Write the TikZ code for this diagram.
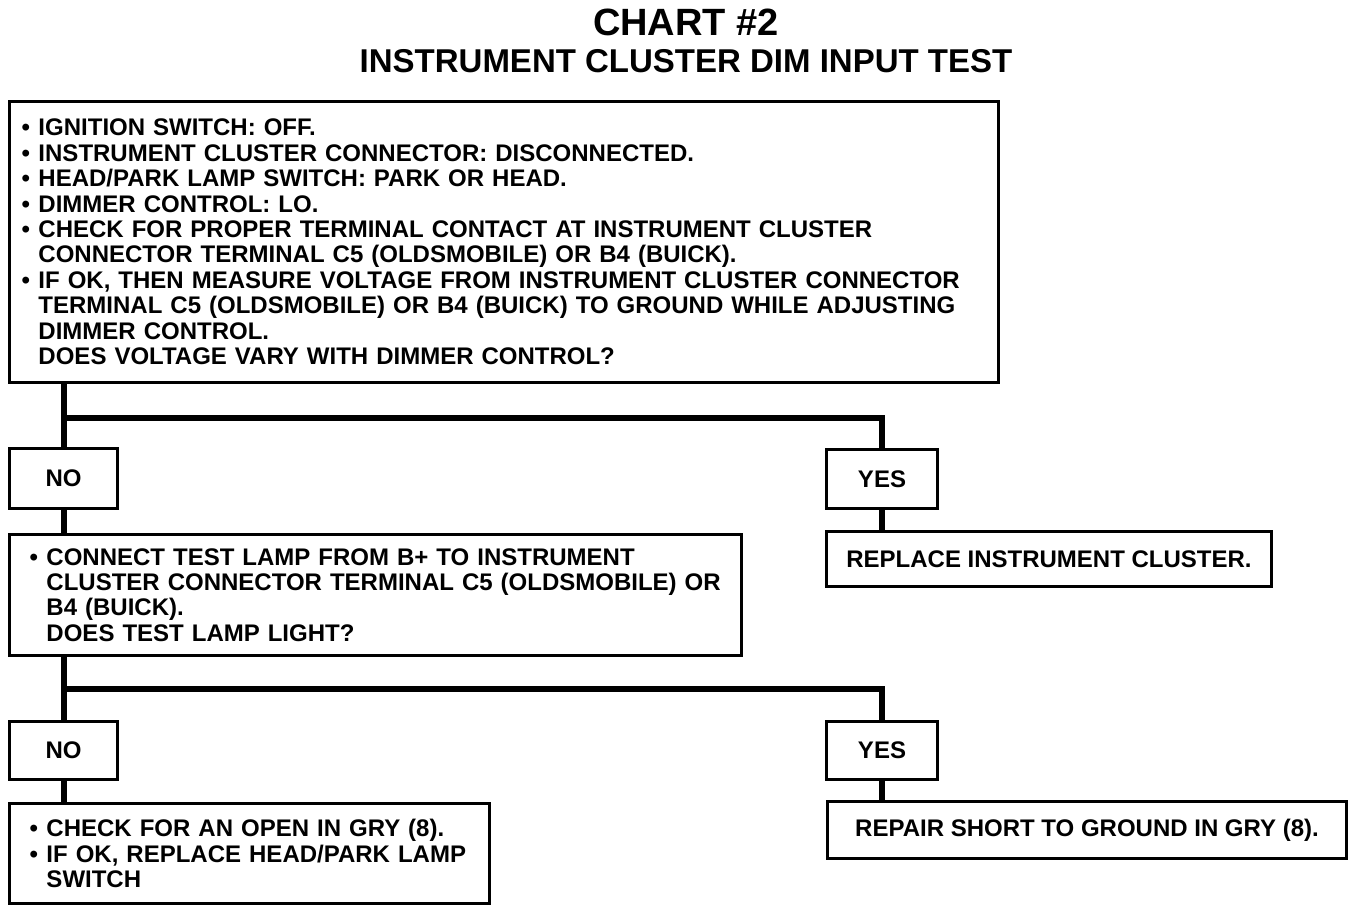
\documentclass[tikz,border=0pt]{standalone}
\usepackage{fontspec}
\setmainfont{Liberation Sans}
\newcommand\bulA{\makebox[17pt][l]{\textbullet}}
\newcommand\indA{\hspace*{17pt}}
\begin{document}
\begin{tikzpicture}[x=1pt,y=-1pt,
  box/.style={draw, line width=3pt, inner ysep=0pt, anchor=north west, align=left},
  txt/.style={font=\bfseries\fontsize{24}{25.4}\selectfont},
  small/.style={box, txt, align=center, inner xsep=0pt},
  conn/.style={line width=6pt, line join=miter}]
\useasboundingbox[fill=white] (0,0) rectangle (1360,910);

\node[anchor=base, font=\bfseries\fontsize{38}{40}\selectfont] (t1) at (686,35) {CHART \#2};
\node[anchor=base, font=\bfseries\fontsize{33}{35}\selectfont] (t2) at (686,72) {INSTRUMENT CLUSTER DIM INPUT TEST};

\node[box, txt, minimum width=989pt, minimum height=281pt, inner xsep=12pt, text width=965pt] (b1) at (8,100) {%
\bulA IGNITION SWITCH: OFF.\\
\bulA INSTRUMENT CLUSTER CONNECTOR: DISCONNECTED.\\
\bulA HEAD/PARK LAMP SWITCH: PARK OR HEAD.\\
\bulA DIMMER CONTROL: LO.\\
\bulA CHECK FOR PROPER TERMINAL CONTACT AT INSTRUMENT CLUSTER\\
\indA CONNECTOR TERMINAL C5 (OLDSMOBILE) OR B4 (BUICK).\\
\bulA IF OK, THEN MEASURE VOLTAGE FROM INSTRUMENT CLUSTER CONNECTOR\\
\indA TERMINAL C5 (OLDSMOBILE) OR B4 (BUICK) TO GROUND WHILE ADJUSTING\\
\indA DIMMER CONTROL.\\
\indA DOES VOLTAGE VARY WITH DIMMER CONTROL?};

\node[small, minimum width=108pt, minimum height=60pt] (no1) at (8,447) {NO};
\node[small, minimum width=111pt, minimum height=59pt] (yes1) at (825,448) {YES};
\node[small, minimum width=445pt, minimum height=55pt] (rep1) at (825,530) {REPLACE INSTRUMENT CLUSTER.};

\node[box, txt, minimum width=732pt, minimum height=121pt, inner xsep=20pt, text width=692pt] (b2) at (8,533) {%
\bulA CONNECT TEST LAMP FROM B+ TO INSTRUMENT\\
\indA CLUSTER CONNECTOR TERMINAL C5 (OLDSMOBILE) OR\\
\indA B4 (BUICK).\\
\indA DOES TEST LAMP LIGHT?};

\node[small, minimum width=108pt, minimum height=58pt] (no2) at (8,720) {NO};
\node[small, minimum width=111pt, minimum height=58pt] (yes2) at (825,720) {YES};

\node[box, txt, minimum width=480pt, minimum height=100pt, inner xsep=20pt, text width=440pt] (b3) at (8,802) {%
\bulA CHECK FOR AN OPEN IN GRY (8).\\
\bulA IF OK, REPLACE HEAD/PARK LAMP\\
\indA SWITCH};
\node[small, minimum width=519pt, minimum height=57pt] (rep2) at (826,800) {REPAIR SHORT TO GROUND IN GRY (8).};

\coordinate (j1) at (62,418);
\coordinate (j2) at (62,689);
\draw[conn] (b1.south -| no1.north) -- (no1.north);
\draw[conn] (j1) -| (yes1.north);
\draw[conn] (no1.south) -- (no1.south |- b2.north);
\draw[conn] (yes1.south) -- (yes1.south |- rep1.north);
\draw[conn] (b2.south -| no2.north) -- (no2.north);
\draw[conn] (j2) -| (yes2.north);
\draw[conn] (no2.south) -- (no2.south |- b3.north);
\draw[conn] (yes2.south) -- (yes2.south |- rep2.north);
\end{tikzpicture}
\end{document}
